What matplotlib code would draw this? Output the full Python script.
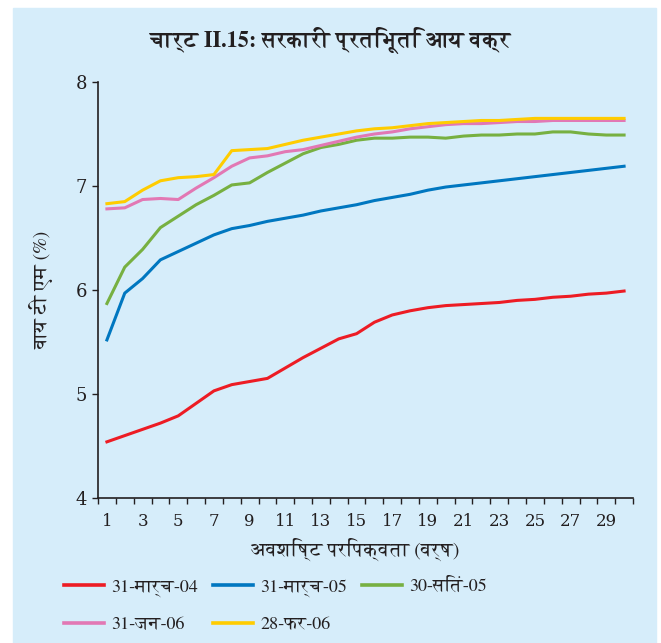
import os
import numpy as np
import matplotlib
matplotlib.use("Agg")
import matplotlib.pyplot as plt
from matplotlib import font_manager
from matplotlib.patches import Rectangle

years = list(range(1, 31))

ytm_mar04 = [4.54, 4.60, 4.66, 4.72, 4.79, 4.91, 5.03, 5.09, 5.12, 5.15,
             5.25, 5.35, 5.44, 5.53, 5.58, 5.69, 5.76, 5.80, 5.83, 5.85,
             5.86, 5.87, 5.88, 5.90, 5.91, 5.93, 5.94, 5.96, 5.97, 5.99]
ytm_mar05 = [5.52, 5.97, 6.11, 6.29, 6.37, 6.45, 6.53, 6.59, 6.62, 6.66,
             6.69, 6.72, 6.76, 6.79, 6.82, 6.86, 6.89, 6.92, 6.96, 6.99,
             7.01, 7.03, 7.05, 7.07, 7.09, 7.11, 7.13, 7.15, 7.17, 7.19]
ytm_sep05 = [5.87, 6.22, 6.39, 6.60, 6.71, 6.82, 6.91, 7.01, 7.03, 7.13,
             7.22, 7.31, 7.37, 7.40, 7.44, 7.46, 7.46, 7.47, 7.47, 7.46,
             7.48, 7.49, 7.49, 7.50, 7.50, 7.52, 7.52, 7.50, 7.49, 7.49]
ytm_jan06 = [6.78, 6.79, 6.87, 6.88, 6.87, 6.98, 7.08, 7.19, 7.27, 7.29,
             7.33, 7.35, 7.39, 7.43, 7.47, 7.50, 7.52, 7.55, 7.57, 7.59,
             7.60, 7.60, 7.61, 7.62, 7.62, 7.63, 7.63, 7.63, 7.63, 7.63]
ytm_feb06 = [6.83, 6.85, 6.96, 7.05, 7.08, 7.09, 7.11, 7.34, 7.35, 7.36,
             7.40, 7.44, 7.47, 7.50, 7.53, 7.55, 7.56, 7.58, 7.60, 7.61,
             7.62, 7.63, 7.63, 7.64, 7.65, 7.65, 7.65, 7.65, 7.65, 7.65]

series_labels = ["31-मार्च-04", "31-मार्च-05", "30-सितं-05", "31-जन-06", "28-फर-06"]
series_colors = ["#ED1C24", "#0077C0", "#77B041", "#E278B4", "#FFCC00"]

title = "चार्ट II.15: सरकारी प्रतिभूति आय वक्र"
xlabel = "अवशिष्ट परिपक्वता (वर्ष)"
ylabel = "वाय टी एम (%)"

# GNU FreeSerif carries Devanagari; register it if it is on the system
for path in font_manager.findSystemFonts():
    if os.path.basename(path).startswith("FreeSerif"):
        font_manager.fontManager.addfont(path)

hindi = ["FreeSerif", "DejaVu Serif"]
serif = ["DejaVu Serif"]
plt.rcParams["font.family"] = hindi

ink = "#231F20"
bg = "#D6EDFA"
fig = plt.figure(figsize=(6.61, 6.43), dpi=100)
fig.patches.append(Rectangle((13 / 661, 0), 643 / 661, 635 / 643,
                             transform=fig.transFigure, color=bg, zorder=-10))

ax = fig.add_axes([98 / 661, 145 / 643, 535 / 661, 416 / 643])
ax.set_facecolor("none")

all_series = [ytm_mar04, ytm_mar05, ytm_sep05, ytm_jan06, ytm_feb06]
handles = []
for vals, lab, col in zip(all_series, series_labels, series_colors):
    h, = ax.plot(years, vals, color=col, lw=2.2, label=lab)
    handles.append(h)

ax.set_xlim(0.5, 30.5)
ax.set_ylim(4, 8)
ax.set_yticks([4, 5, 6, 7, 8])
# category boundaries get the tick marks, odd years get the labels
ax.set_xticks(np.arange(0.5, 31, 1))
ax.set_xticklabels([])
ax.tick_params(axis="x", length=4, width=1, direction="out", color=ink)
for yr in years[::2]:
    ax.text(yr, -0.035, str(yr), transform=ax.get_xaxis_transform(),
            ha="center", va="top", fontsize=12, family=serif, color=ink)
ax.tick_params(axis="y", length=4, width=1, labelsize=13, pad=4, color=ink,
               labelcolor=ink)
for t in ax.get_yticklabels():
    t.set_family(serif)
ax.spines["top"].set_visible(False)
ax.spines["right"].set_visible(False)
for s in ("left", "bottom"):
    ax.spines[s].set_linewidth(1.2)
    ax.spines[s].set_color(ink)

fig.text(331 / 661, 1 - 40 / 643, title, ha="center", va="center",
         fontsize=16, fontweight="bold", color=ink)
fig.text(355 / 661, 1 - 549 / 643, xlabel, ha="center", va="center",
         fontsize=14, color=ink)
fig.text(42 / 661, 1 - 290 / 643, ylabel, ha="center", va="center",
         rotation=90, fontsize=14, color=ink)

order = [0, 3, 1, 4, 2]
leg = fig.legend([handles[i] for i in order], [series_labels[i] for i in order],
                 ncol=3, loc="upper left", bbox_to_anchor=(64 / 661, 1 - 578 / 643),
                 frameon=False, fontsize=13, handlelength=2.2,
                 columnspacing=0.85, labelspacing=1.1, handletextpad=0.4,
                 borderaxespad=0, borderpad=0)
for text in leg.get_texts():
    text.set_color(ink)
for line in leg.get_lines():
    line.set_linewidth(2.6)

fig.savefig("out.png", dpi=100)
